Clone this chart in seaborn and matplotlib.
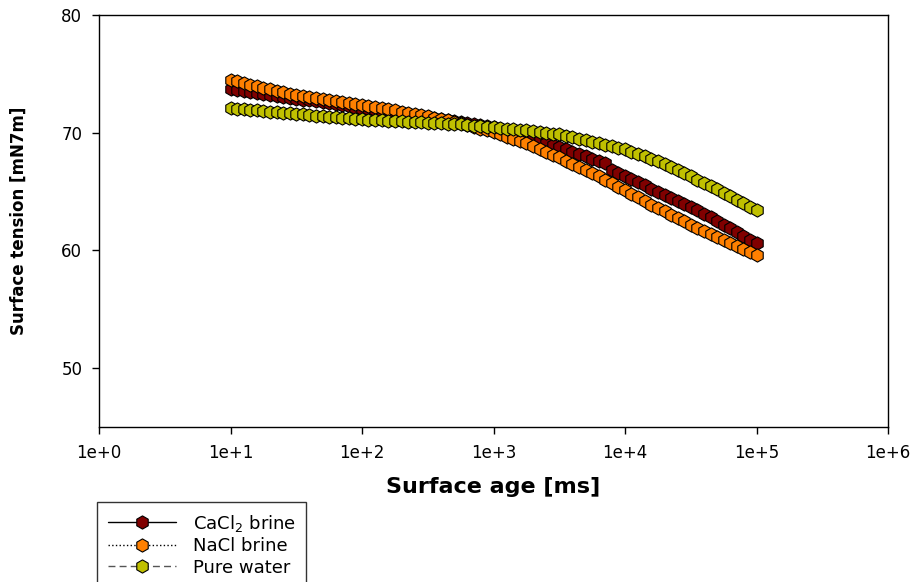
import matplotlib
matplotlib.use("Agg")
import matplotlib.pyplot as plt
import seaborn as sns
import pandas as pd

# ---------------- data ----------------
surface_age_ms = [10, 11.2, 12.6, 14.1, 15.8, 17.8, 20.0, 22.4, 25.1, 28.2, 31.6, 35.5, 39.8, 44.7, 50.1, 56.2, 63.1, 70.8, 79.4, 89.1,
                  100, 112, 126, 141, 158, 178, 200, 224, 251, 282, 316, 355, 398, 447, 501, 562, 631, 708, 794, 891,
                  1000, 1120, 1260, 1410, 1580, 1780, 2000, 2240, 2510, 2820, 3160, 3550, 3980, 4470, 5010, 5620, 6310, 7080, 7940, 8910,
                  10000, 11200, 12600, 14100, 15800, 17800, 20000, 22400, 25100, 28200, 31600, 35500, 39800, 44700, 50100, 56200, 63100, 70800, 79400, 89100,
                  100000]

cacl2_brine = [73.7, 73.62, 73.54, 73.46, 73.38,
               73.3, 73.22, 73.14, 73.06, 72.98,
               72.9, 72.82, 72.74, 72.66, 72.58,
               72.5, 72.41, 72.32, 72.23, 72.14,
               72.05, 71.98, 71.91, 71.84, 71.77,
               71.7, 71.62, 71.54, 71.46, 71.38,
               71.3, 71.23, 71.16, 71.09, 71.02,
               70.95, 70.85, 70.75, 70.65, 70.55,
               70.45, 70.3, 70.15, 70.0, 69.85,
               69.7, 69.52, 69.34, 69.16, 68.98,
               68.8, 68.6, 68.4, 68.2, 68.0,
               67.8, 67.6, 67.4, 66.85, 66.6,
               66.3, 66.04, 65.78, 65.52, 65.26,
               65.0, 64.74, 64.48, 64.22, 63.96,
               63.7, 63.4, 63.1, 62.8, 62.5,
               62.2, 61.88, 61.56, 61.24, 60.92,
               60.6]

nacl_brine = [74.5, 74.36, 74.22, 74.08, 73.94,
              73.8, 73.68, 73.56, 73.44, 73.32,
              73.2, 73.12, 73.04, 72.96, 72.88,
              72.8, 72.71, 72.62, 72.53, 72.44,
              72.35, 72.26, 72.17, 72.08, 71.99,
              71.9, 71.8, 71.7, 71.6, 71.5,
              71.4, 71.28, 71.16, 71.04, 70.92,
              70.8, 70.65, 70.5, 70.35, 70.2,
              70.05, 69.86, 69.67, 69.48, 69.29,
              69.1, 68.86, 68.62, 68.38, 68.14,
              67.9, 67.64, 67.38, 67.12, 66.86,
              66.6, 66.3, 66.0, 65.7, 65.4,
              65.1, 64.8, 64.5, 64.2, 63.9,
              63.6, 63.32, 63.04, 62.76, 62.48,
              62.2, 61.94, 61.68, 61.42, 61.16,
              60.9, 60.64, 60.38, 60.12, 59.86,
              59.6]

pure_water = [72.1, 72.05, 72.0, 71.95, 71.9,
              71.85, 71.8, 71.75, 71.7, 71.65,
              71.6, 71.55, 71.5, 71.45, 71.4,
              71.35, 71.31, 71.27, 71.23, 71.19,
              71.15, 71.12, 71.09, 71.06, 71.03,
              71.0, 70.97, 70.94, 70.91, 70.88,
              70.85, 70.82, 70.79, 70.76, 70.73,
              70.7, 70.65, 70.6, 70.55, 70.5,
              70.45, 70.4, 70.35, 70.3, 70.25,
              70.2, 70.13, 70.06, 69.99, 69.92,
              69.85, 69.73, 69.61, 69.49, 69.37,
              69.25, 69.12, 68.99, 68.86, 68.73,
              68.6, 68.4, 68.2, 68.0, 67.8,
              67.6, 67.34, 67.08, 66.82, 66.56,
              66.3, 66.02, 65.74, 65.46, 65.18,
              64.9, 64.6, 64.3, 64.0, 63.7,
              63.4]

series_labels = ["CaCl$_2$ brine", "NaCl brine", "Pure water"]
x_ticks = [1, 10, 100, 1000, 10000, 100000, 1000000]
x_tick_labels = ["1e+0", "1e+1", "1e+2", "1e+3", "1e+4", "1e+5", "1e+6"]
y_ticks = [50, 60, 70, 80]

# ---------------- style ----------------
sns.set_theme(style="ticks")
plt.rcParams["font.family"] = ["DejaVu Sans"]
plt.rcParams["text.color"] = "black"
plt.rcParams["axes.labelcolor"] = "black"

fig = plt.figure(figsize=(9.15, 5.82), dpi=100)
ax = fig.add_axes([0.1082, 0.2663, 0.8623, 0.7079])

face_colors = ["#800000", "#FF8000", "#C0C000"]
line_colors = ["black", "black", "#555555"]
line_styles = ["-", ":", (0, (5, 3))]
series = [cacl2_brine, nacl_brine, pure_water]

for vals, lab, fc, lc, ls in zip(series, series_labels, face_colors, line_colors, line_styles):
    df = pd.DataFrame({"age": surface_age_ms, "tension": vals})
    sns.lineplot(data=df, x="age", y="tension", ax=ax, color=lc, linestyle=ls,
                 linewidth=1.0, marker="h", markersize=9.5, markerfacecolor=fc,
                 markeredgecolor="black", markeredgewidth=0.8, label=lab)

ax.set_xscale("log")
ax.set_xlim(1, 1e6)
ax.set_ylim(45, 80)
ax.set_xticks(x_ticks)
ax.set_xticklabels(x_tick_labels)
ax.minorticks_off()
ax.set_yticks(y_ticks)
ax.tick_params(axis="both", direction="out", length=5, width=1, labelsize=12,
               colors="black", pad=7)
for sp in ax.spines.values():
    sp.set_visible(True)
    sp.set_color("black")
    sp.set_linewidth(1.0)

ax.set_xlabel("Surface age [ms]", fontsize=16, fontweight="bold", color="black")
ax.xaxis.set_label_coords(0.5, -0.122)
ax.set_ylabel("Surface tension [mN7m]", fontsize=12, fontweight="bold", color="black")
ax.yaxis.set_label_coords(-0.09, 0.5)

ax.get_legend().remove()
handles, labels = ax.get_legend_handles_labels()
leg = fig.legend(handles, labels, loc="upper left",
                 bbox_to_anchor=(0.106, 0.138), bbox_transform=fig.transFigure,
                 fontsize=13, frameon=True, fancybox=False, handlelength=3.8,
                 borderpad=0.6, labelspacing=0.2, handletextpad=0.9,
                 borderaxespad=0.0)
leg.get_frame().set_edgecolor("black")
leg.get_frame().set_linewidth(1.0)
for t in leg.get_texts():
    t.set_color("black")

fig.savefig("out.png", dpi=100)
